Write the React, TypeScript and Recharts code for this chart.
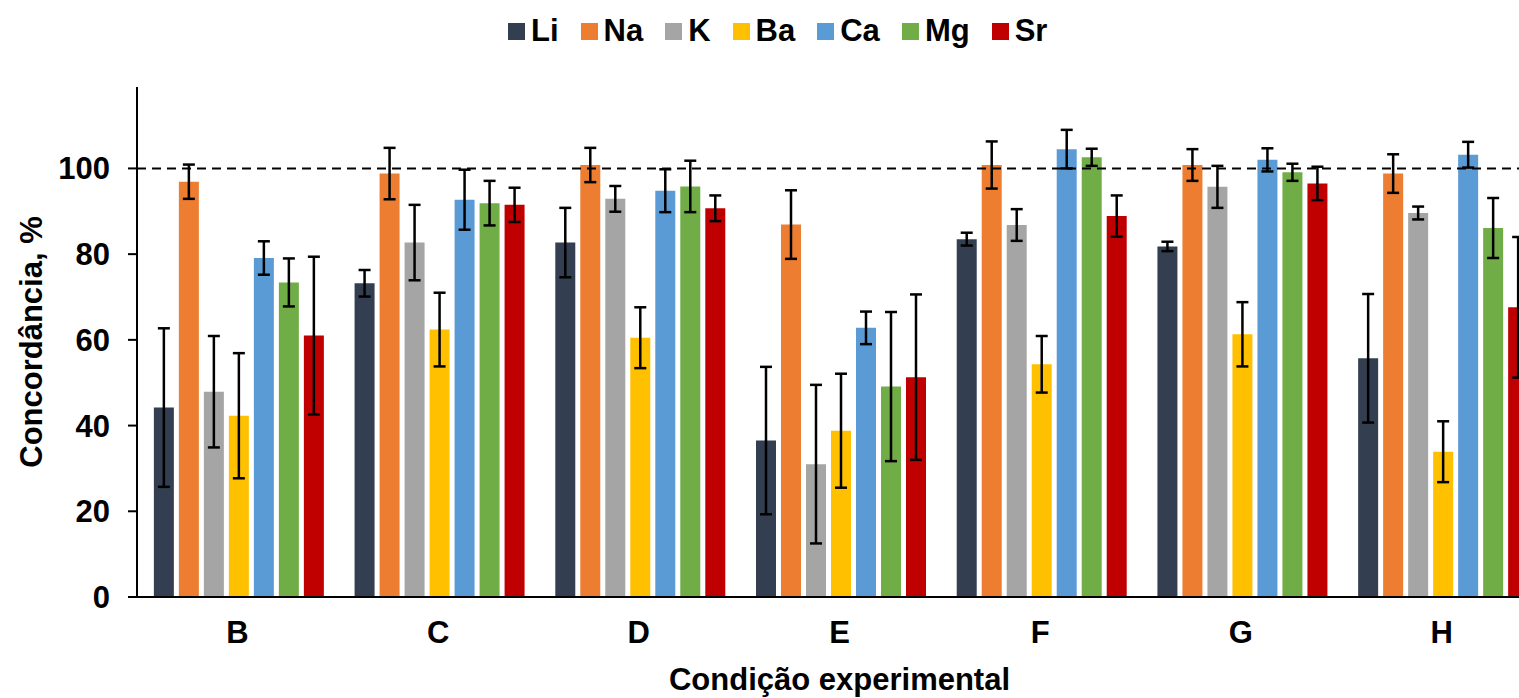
import React from "react";
import {
  Bar,
  BarChart,
  ErrorBar,
  Legend,
  ReferenceLine,
  XAxis,
  YAxis,
} from "recharts";

// Experimental conditions (x categories)
const categories = ["B", "C", "D", "E", "F", "G", "H"];

// Mean agreement (%) per element
const liValues = [44.2, 73.2, 82.7, 36.5, 83.5, 81.8, 55.7];
const naValues = [96.9, 98.8, 100.8, 86.9, 100.8, 100.8, 98.8];
const kValues = [47.9, 82.7, 92.9, 31.0, 86.8, 95.7, 89.6];
const baValues = [42.3, 62.4, 60.5, 38.8, 54.3, 61.3, 33.9];
const caValues = [79.1, 92.7, 94.8, 62.8, 104.5, 102.0, 103.2];
const mgValues = [73.4, 91.9, 95.8, 49.1, 102.6, 99.1, 86.1];
const srValues = [61.0, 91.5, 90.7, 51.3, 88.9, 96.5, 67.6];

// Symmetric error bars (+/-)
const liErrors = [18.5, 3.1, 8.1, 17.2, 1.5, 1.1, 15.0];
const naErrors = [4.0, 6.0, 4.0, 8.0, 5.5, 3.7, 4.5];
const kErrors = [13.0, 8.8, 3.0, 18.5, 3.7, 4.9, 1.5];
const baErrors = [14.6, 8.6, 7.1, 13.3, 6.6, 7.5, 7.1];
const caErrors = [3.9, 7.0, 5.0, 3.8, 4.5, 2.7, 3.0];
const mgErrors = [5.6, 5.2, 6.0, 17.4, 2.0, 2.0, 7.0];
const srErrors = [18.4, 4.0, 3.0, 19.3, 4.8, 3.9, 16.4];

const yTicks = [0, 20, 40, 60, 80, 100];
const referenceValue = 100;

const series = [
  { key: "Li", color: "#333F50", values: liValues, errors: liErrors },
  { key: "Na", color: "#ED7D31", values: naValues, errors: naErrors },
  { key: "K", color: "#A5A5A5", values: kValues, errors: kErrors },
  { key: "Ba", color: "#FFC000", values: baValues, errors: baErrors },
  { key: "Ca", color: "#5B9BD5", values: caValues, errors: caErrors },
  { key: "Mg", color: "#70AD47", values: mgValues, errors: mgErrors },
  { key: "Sr", color: "#C00000", values: srValues, errors: srErrors },
];

const data = categories.map((cat, i) => {
  const row: Record<string, string | number> = { cat };
  series.forEach((s) => {
    row[s.key] = s.values[i];
    row[`${s.key}Err`] = s.errors[i];
  });
  return row;
});

const FONT = '"Liberation Sans", Arial, sans-serif';
const textStyle = { fontFamily: FONT, fontSize: 31, fontWeight: 700, fill: "#000" };

function YTitle({ viewBox }: any) {
  const cx = viewBox.x + 42;
  const cy = viewBox.y + viewBox.height / 2;
  return (
    <text
      x={cx}
      y={cy}
      transform={`rotate(-90 ${cx} ${cy})`}
      textAnchor="middle"
      style={textStyle}
    >
      Concordância, %
    </text>
  );
}

function XTitle({ viewBox }: any) {
  const cx = viewBox.x + viewBox.width / 2;
  return (
    <text x={cx} y={690} textAnchor="middle" style={textStyle}>
      Condição experimental
    </text>
  );
}

// legend keeps the series order (Recharts would sort it by name)
function LegendContent() {
  return (
    <div style={{ display: "flex", gap: 22, fontFamily: FONT }}>
      {series.map((s) => (
        <div key={s.key} style={{ display: "flex", alignItems: "center", gap: 6 }}>
          <span style={{ width: 17, height: 17, background: s.color, display: "inline-block" }} />
          <span style={{ fontSize: 31, fontWeight: 700, color: "#000", lineHeight: "34px" }}>
            {s.key}
          </span>
        </div>
      ))}
    </div>
  );
}

export default function App() {
  return (
    <div
      style={{
        position: "fixed",
        left: 0,
        top: 0,
        width: 1519,
        height: 698,
        overflow: "hidden",
        background: "#fff",
      }}
    >
      <BarChart
        width={1542}
        height={698}
        data={data}
        margin={{ top: 87, right: 0, left: 0, bottom: 0 }}
        barCategoryGap="8.4%"
        barGap={5}
      >
        <Legend
          verticalAlign="middle"
          align="center"
          wrapperStyle={{ top: 14, left: 508, width: "auto" }}
          content={<LegendContent />}
        />
        <ReferenceLine
          y={referenceValue}
          stroke="#000"
          strokeWidth={2}
          strokeDasharray="9 6"
        />
        <XAxis
          dataKey="cat"
          height={101}
          interval={0}
          tickLine={false}
          tickSize={0}
          tickMargin={24}
          axisLine={{ stroke: "#000", strokeWidth: 2 }}
          tick={textStyle}
          label={<XTitle />}
        />
        <YAxis
          width={137}
          domain={[0, 119]}
          ticks={yTicks}
          allowDataOverflow
          tickSize={9}
          tickMargin={18}
          axisLine={{ stroke: "#000", strokeWidth: 2 }}
          tickLine={{ stroke: "#000", strokeWidth: 2 }}
          tick={textStyle}
          label={<YTitle />}
        />
        {series.map((s) => (
          <Bar key={s.key} dataKey={s.key} name={s.key} fill={s.color} isAnimationActive={false}>
            <ErrorBar
              dataKey={`${s.key}Err`}
              width={6}
              stroke="#000"
              strokeWidth={2.5}
              direction="y"
            />
          </Bar>
        ))}
      </BarChart>
    </div>
  );
}
